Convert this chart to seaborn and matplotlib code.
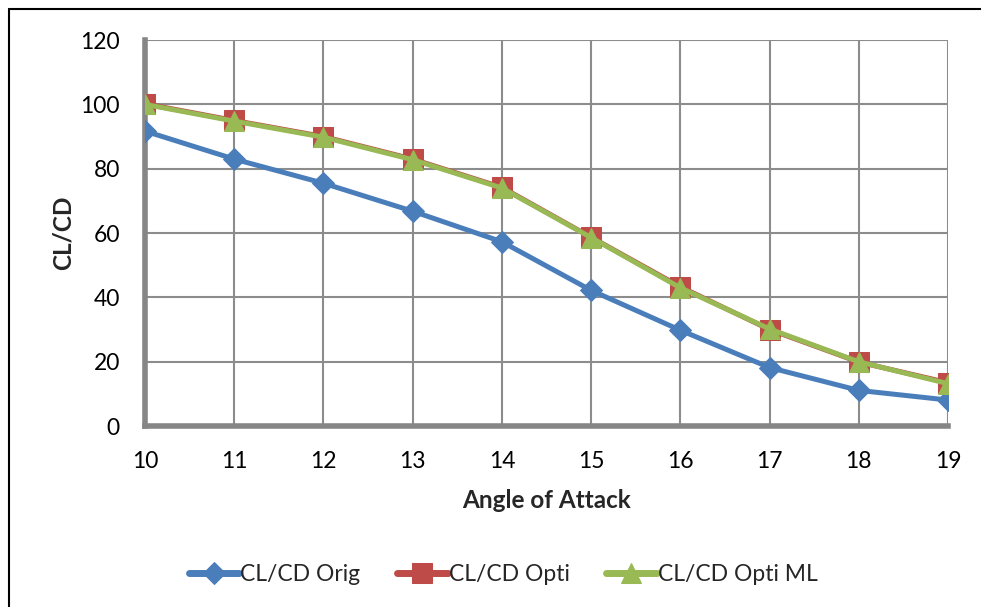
import numpy as np
import pandas as pd
import matplotlib
matplotlib.use("Agg")
import matplotlib.pyplot as plt
import seaborn as sns
from matplotlib.lines import Line2D

angles = [10, 11, 12, 13, 14, 15, 16, 17, 18, 19]
orig = [91.7, 83.0, 75.5, 66.8, 57.3, 42.2, 29.8, 18.2, 11.1, 8.1]
opti = [100.2, 95.0, 90.0, 83.0, 74.2, 58.7, 43.3, 30.0, 19.9, 13.5]
opti_ml = [100.0, 94.8, 89.8, 82.8, 74.0, 58.6, 43.0, 30.2, 20.0, 13.2]
series_names = ["CL/CD Orig", "CL/CD Opti", "CL/CD Opti ML"]
yticks = [0, 20, 40, 60, 80, 100, 120]

sns.set_style("white")
plt.rcParams['font.family'] = ['Lato', 'DejaVu Sans']

df = pd.concat([
    pd.DataFrame({"angle": angles, "val": v, "series": n})
    for v, n in zip([orig, opti, opti_ml], series_names)
])

fig = plt.figure(figsize=(9.81, 6.07), dpi=100)
ax = fig.add_axes([0.1478, 0.298, 0.8186, 0.636])

colors = ["#4a7ebb", "#be4b48", "#98b954"]
markers = ["D", "s", "^"]
msizes = [11, 14, 15]
for name, c, m, ms in zip(series_names, colors, markers, msizes):
    sub = df[df.series == name]
    sns.lineplot(data=sub, x="angle", y="val", ax=ax, color=c, marker=m,
                 markersize=ms, markeredgecolor=c, linewidth=3.6, label=name,
                 zorder=3)

ax.set_xlim(10, 19)
ax.set_ylim(0, 120)
ax.set_xticks(angles)
ax.set_yticks(yticks)
ax.grid(True, color="#8c8c8c", linewidth=1.5)
for s in ["top", "right"]:
    ax.spines[s].set_visible(False)
for s in ["left", "bottom"]:
    ax.spines[s].set_color("#868686")
    ax.spines[s].set_linewidth(4)
ax.tick_params(axis="both", which="major", direction="out", length=6, width=4,
               color="#868686", labelsize=16.5, pad=12, labelcolor="black")
ax.tick_params(axis="x", pad=12)
ax.set_xlabel("Angle of Attack", fontsize=17.5, fontweight="bold", labelpad=12)
ax.set_ylabel("CL/CD", fontsize=17.5, fontweight="bold", labelpad=4)
for spine in ax.spines.values():
    spine.set_clip_on(False)

leg = ax.legend(loc="center", bbox_to_anchor=(0.446, -0.385), ncol=3,
                frameon=False, fontsize=16.5, handlelength=2.2,
                columnspacing=1.6, handletextpad=0.05)
for h in leg.legend_handles:
    h.set_linewidth(5)

bx0, by0 = 8.5 / 981, 1 - 8.5 / 607
fig.lines.append(Line2D([bx0, 1.0], [by0, by0], transform=fig.transFigure,
                        color="black", linewidth=1.5))
fig.lines.append(Line2D([bx0, bx0], [0.0, by0], transform=fig.transFigure,
                        color="black", linewidth=1.5))

fig.savefig("out.png", dpi=100)
